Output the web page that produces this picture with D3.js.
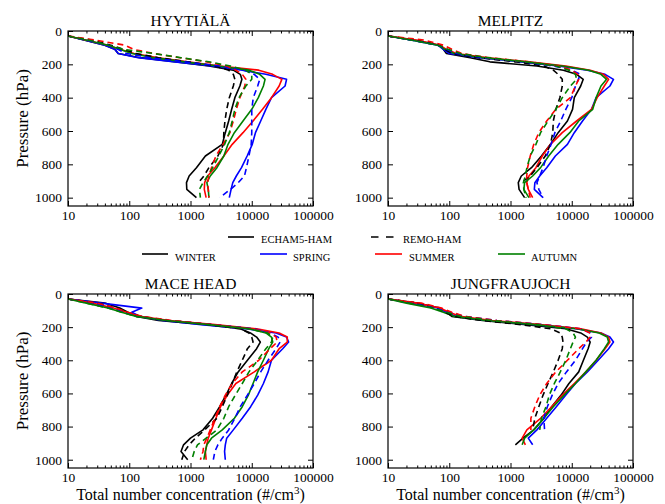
<!DOCTYPE html>
<html>
<head>
<meta charset="utf-8">
<script src="https://cdn.jsdelivr.net/npm/d3@7"></script>
<style>
  html, body { margin: 0; padding: 0; background: #fff; }
  svg { display: block; }
  svg text { font-family: "Liberation Serif", "Times New Roman", Tinos, serif !important; fill: #000; }
</style>
</head>
<body>
<svg id="chart" width="665" height="504"></svg>
<script>
// ---------------- DATA ----------------
const LEVELS = [30, 55, 85, 110, 135, 160, 185, 210, 235, 260, 290, 330, 400, 470, 540, 610, 680, 750, 820, 870, 910, 950, 1000];
const SITES = ["HYYTIÄLÄ", "MELPITZ", "MACE HEAD", "JUNGFRAUJOCH"];
const SEASONS = ["WINTER", "SPRING", "SUMMER", "AUTUMN"];
const MODELS = ["ECHAM5-HAM", "REMO-HAM"];
const X_TICKS = [10, 100, 1000, 10000, 100000];
const Y_TICKS = [0, 200, 400, 600, 800, 1000];

// HYYTIÄLÄ
const hyyEchWin = [10,19,40,58,66,150,590,2000,5000,6500,6900,6400,5300,4700,4200,3700,3300,1750,1250,950,860,870,1250];
const hyyEchSpr = [10,19,40,58,66,140,560,2200,7000,17000,37000,35000,21000,17000,14000,11500,10200,8400,6800,5600,4900,4600,4300];
const hyyEchSum = [10,20,45,70,120,300,900,3000,13000,22000,31000,28000,21000,15000,10500,7200,4800,3500,2500,1900,1700,1680,1800];
const hyyEchAut = [10,20,45,70,110,250,800,2800,9000,13500,16500,15500,12800,10000,7200,5200,4100,3500,2700,2100,1850,1950,2000];
const hyyRemWin = [10,25,50,80,130,300,900,2500,4200,5000,5300,5000,4300,3900,3650,3500,3450,2800,2000,1650,1350,null,null];
const hyyRemSpr = [10,20,45,65,90,220,800,3000,7500,11000,13500,12500,10600,10000,10000,10000,9800,9000,8200,7600,6000,4500,3000];
const hyyRemSum = [10,28,85,117,250,670,1800,3900,5500,7000,8000,7700,6400,5600,5000,4400,3400,2600,2200,2000,1900,1950,2000];
const hyyRemAut = [10,22,45,80,250,700,2000,4500,8000,10000,10000,8000,6200,5300,4800,4300,3600,2900,2300,1900,1600,1400,1450];

// MELPITZ
const melEchWin = [10,28,70,80,90,220,460,2700,7300,12000,15400,14000,11000,10300,8500,6000,4500,3200,2200,1500,1340,1380,1700];
const melEchSpr = [10,25,65,80,100,300,1500,6000,18000,35000,48000,42000,25000,21000,15000,11000,8500,5400,3900,3000,2500,2450,3400];
const melEchSum = [10,30,70,90,130,400,2000,8000,20000,33000,40000,34000,26000,21000,12000,7000,4500,3300,2600,2000,1840,1950,2300];
const melEchAut = [10,25,65,85,120,350,1800,7000,19000,30000,37000,30000,25000,22000,13000,9300,6000,4200,3100,2300,1700,1650,2000];
const melRemWin = [10,28,70,85,110,300,1200,3500,5000,6000,7000,7000,6400,5500,5000,4900,4500,3700,2700,2100,1500,null,null];
const melRemSpr = [10,25,65,90,130,350,1600,5000,10000,13800,12800,11500,10000,8000,6600,5300,4600,3900,3400,3000,2700,2900,3400];
const melRemSum = [10,40,80,110,160,450,2000,6000,10000,12500,13000,11500,9500,5500,3900,2900,2400,2100,1900,1840,1850,1950,2100];
const melRemAut = [10,25,65,95,150,420,1800,5500,9000,11500,12000,9500,7000,5500,4100,3100,2600,2100,1850,1750,1620,1650,1800];

// MACE HEAD
const macEchWin = [10,40,70,95,130,300,1800,6500,9500,12000,13800,12000,8500,6000,4700,3800,3000,2300,1600,1000,770,700,900];
const macEchSpr = [10,35,160,110,150,350,1500,8000,25000,37000,40000,32000,21000,18500,15500,12500,9600,7000,5000,3900,3700,3600,3700];
const macEchSum = [10,25,55,90,150,450,2500,12000,28000,38000,38000,28000,21000,11000,5500,4000,3100,2600,2200,1950,1840,1750,1800];
const macEchAut = [10,20,45,75,130,400,2000,9000,17000,21000,22000,19000,15500,12500,10500,8800,7000,5200,3300,2200,1850,1750,1650];
const macRemWin = [10,30,60,90,150,400,2000,6500,9000,10000,10500,8500,7000,5700,4800,4000,3300,2700,1700,1200,950,800,720];
const macRemSpr = [10,25,55,85,140,450,2500,11000,20000,27000,29000,25000,18500,14000,11000,8500,6500,5300,4200,3300,2800,2500,2360];
const macRemSum = [10,30,60,95,160,500,2500,10000,20000,25000,26000,20000,13000,7000,4800,3700,3000,2500,2100,1850,1650,1600,1450];
const macRemAut = [10,20,45,75,130,420,2000,9000,18000,22000,21000,17000,12500,9000,7000,5400,4200,3500,2700,1800,1300,1150,1050];

// JUNGFRAUJOCH
const junEchWin = [10,30,70,90,110,350,1800,8000,14000,18000,20000,18500,15500,13000,9000,6700,4700,3500,2400,1600,1200,null,null];
const junEchSpr = [10,25,65,90,130,400,2500,12000,30000,42000,48000,40000,27000,18000,11500,8000,5600,3900,2700,1950,2300,null,null];
const junEchSum = [10,30,70,100,150,500,3000,14000,30000,40000,42000,35000,25000,17000,11000,7000,4700,3100,1850,1550,1750,null,null];
const junEchAut = [10,20,50,80,120,400,2500,12000,28000,38000,40000,34000,25000,17000,11500,7500,5000,3500,2400,1700,1550,null,null];
const junRemWin = [10,30,60,85,120,350,1500,4500,6500,7000,7200,7000,6000,5000,4100,3400,2900,2500,2300,null,null,null,null];
const junRemSpr = [10,25,60,95,180,600,3500,14000,20000,21000,17500,15000,11500,8200,6000,4800,4000,3500,3600,null,null,null,null];
const junRemSum = [10,35,75,110,180,600,3500,14000,20000,20000,17000,13000,8500,5500,3900,3000,2500,2150,2150,null,null,null,null];
const junRemAut = [10,22,55,90,150,500,2800,8000,10500,11500,10500,9500,8000,6500,5200,4300,3800,3200,3000,null,null,null,null];

// ---------------- STYLE / LAYOUT ----------------
const SEASON_COLORS = ["#000000", "#0000ff", "#ff0000", "#008000"];
const MODEL_DASH = [null, "6,4"];
const SERIF = '"Liberation Serif", "Times New Roman", Tinos, serif';

const siteData = [
  [[hyyEchWin, hyyEchSpr, hyyEchSum, hyyEchAut], [hyyRemWin, hyyRemSpr, hyyRemSum, hyyRemAut]],
  [[melEchWin, melEchSpr, melEchSum, melEchAut], [melRemWin, melRemSpr, melRemSum, melRemAut]],
  [[macEchWin, macEchSpr, macEchSum, macEchAut], [macRemWin, macRemSpr, macRemSum, macRemAut]],
  [[junEchWin, junEchSpr, junEchSum, junEchAut], [junRemWin, junRemSpr, junRemSum, junRemAut]]
];

const panels = [
  {x0: 68,  x1: 313, y0: 31,  y1: 206},
  {x0: 388, x1: 633, y0: 31,  y1: 206},
  {x0: 68,  x1: 313, y0: 294, y1: 468},
  {x0: 388, x1: 633, y0: 294, y1: 468}
];

const svg = d3.select("#chart");

const minorTicks = [];
for (let d = 10; d < 100000; d *= 10) {
  for (let k = 2; k <= 9; k++) minorTicks.push(d * k);
}

panels.forEach((pn, i) => {
  const x = d3.scaleLog().domain([10, 100000]).range([pn.x0, pn.x1]);
  const y = d3.scaleLinear().domain([0, 1050]).range([pn.y0, pn.y1]);
  const g = svg.append("g");

  const clipId = "clip" + i;
  svg.append("clipPath").attr("id", clipId)
    .append("rect").attr("x", pn.x0).attr("y", pn.y0)
    .attr("width", pn.x1 - pn.x0).attr("height", pn.y1 - pn.y0);

  const lg = g.append("g").attr("clip-path", `url(#${clipId})`);
  const line = d3.line()
    .defined(d => d.v != null)
    .x(d => x(d.v)).y(d => y(d.p));
  siteData[i].forEach((modelSeries, m) => {
    modelSeries.forEach((vals, s) => {
      const pts = LEVELS.map((p, k) => ({p: p, v: vals[k]}));
      lg.append("path")
        .attr("d", line(pts))
        .attr("fill", "none")
        .attr("stroke", SEASON_COLORS[s])
        .attr("stroke-width", 1.6)
        .attr("stroke-linejoin", "round")
        .attr("stroke-dasharray", MODEL_DASH[m]);
    });
  });

  const fmt = d => String(d);
  g.append("g").attr("transform", `translate(0,${pn.y1})`)
    .call(d3.axisBottom(x).tickValues(X_TICKS).tickFormat(fmt).tickSize(-5).tickPadding(4));
  g.append("g").attr("transform", `translate(0,${pn.y1})`)
    .call(d3.axisBottom(x).tickValues(minorTicks).tickFormat("").tickSize(-2.5));
  g.append("g").attr("transform", `translate(0,${pn.y0})`)
    .call(d3.axisTop(x).tickValues(X_TICKS).tickFormat("").tickSize(-5));
  g.append("g").attr("transform", `translate(0,${pn.y0})`)
    .call(d3.axisTop(x).tickValues(minorTicks).tickFormat("").tickSize(-2.5));
  g.append("g").attr("transform", `translate(${pn.x0},0)`)
    .call(d3.axisLeft(y).tickValues(Y_TICKS).tickFormat(fmt).tickSize(-5).tickPadding(6));
  g.append("g").attr("transform", `translate(${pn.x1},0)`)
    .call(d3.axisRight(y).tickValues(Y_TICKS).tickFormat("").tickSize(-5));

  g.selectAll("g").attr("font-family", SERIF);
  g.selectAll(".domain").remove();
  g.selectAll(".tick line").attr("stroke", "#000").attr("stroke-width", 1);
  g.selectAll(".tick text")
    .attr("font-family", SERIF)
    .style("font-size", "13.5px").attr("fill", "#000");

  g.append("rect")
    .attr("x", pn.x0).attr("y", pn.y0)
    .attr("width", pn.x1 - pn.x0).attr("height", pn.y1 - pn.y0)
    .attr("fill", "none").attr("stroke", "#000").attr("stroke-width", 1.2);

  g.append("text")
    .attr("x", (pn.x0 + pn.x1) / 2).attr("y", pn.y0 - 5)
    .attr("text-anchor", "middle")
    .attr("font-family", SERIF)
    .style("font-size", "15.5px")
    .text(SITES[i]);

  if (pn.x0 < 100) {
    const cy = (pn.y0 + pn.y1) / 2;
    g.append("text")
      .attr("transform", `translate(28,${cy}) rotate(-90)`)
      .attr("text-anchor", "middle")
      .attr("font-family", SERIF)
      .style("font-size", "17px")
      .text("Pressure (hPa)");
  }
  if (pn.y0 > 200) {
    const t = g.append("text")
      .attr("x", (pn.x0 + pn.x1) / 2).attr("y", pn.y1 + 32)
      .attr("text-anchor", "middle")
      .attr("font-family", SERIF)
      .style("font-size", "16px");
    t.append("tspan").text("Total number concentration (#/cm");
    t.append("tspan").attr("dy", -6).style("font-size", "11px").text("3");
    t.append("tspan").attr("dy", 6).text(")");
  }
});

// ---------------- LEGEND ----------------
const leg = svg.append("g").attr("font-family", SERIF);
const modelLegend = [
  {x1: 228, x2: 254, tx: 261, dash: null},
  {x1: 371, x2: 394, tx: 403, dash: "7.5,7.5"}
];
MODELS.forEach((m, k) => {
  const it = modelLegend[k];
  leg.append("line").attr("x1", it.x1).attr("x2", it.x2)
    .attr("y1", 237).attr("y2", 237)
    .attr("stroke", "#000").attr("stroke-width", 1.6)
    .attr("stroke-dasharray", it.dash);
  leg.append("text").attr("x", it.tx).attr("y", 242.5)
    .style("font-size", "10.5px").text(m);
});
const seasonLegend = [
  {x1: 142, x2: 168, tx: 175},
  {x1: 260, x2: 287, tx: 293},
  {x1: 375, x2: 402, tx: 409},
  {x1: 498, x2: 525, tx: 531}
];
SEASONS.forEach((s, k) => {
  const it = seasonLegend[k];
  leg.append("line").attr("x1", it.x1).attr("x2", it.x2)
    .attr("y1", 254).attr("y2", 254)
    .attr("stroke", SEASON_COLORS[k]).attr("stroke-width", 1.6);
  leg.append("text").attr("x", it.tx).attr("y", 261)
    .style("font-size", "10.5px").text(s);
});
</script>
</body>
</html>
